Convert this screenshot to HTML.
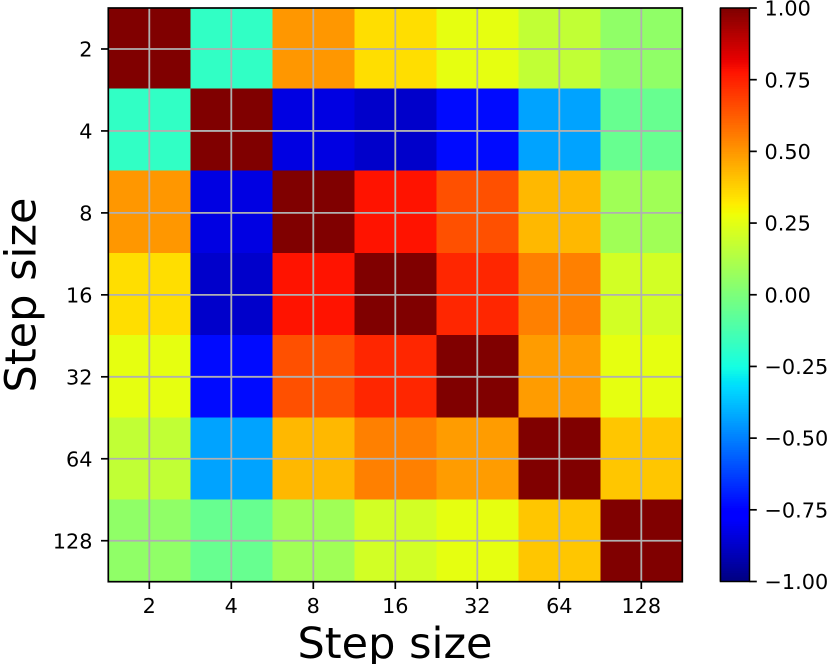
<!DOCTYPE html>
<html>
<head>
<meta charset="utf-8">
<style>
html,body{margin:0;padding:0;background:#fff;width:830px;height:664px;overflow:hidden}
svg{display:block}
text{font-family:"DejaVu Sans","Liberation Sans",sans-serif;fill:#000}
</style>
</head>
<body>
<svg id="chart" width="830" height="664" viewBox="0 0 830 664" xmlns="http://www.w3.org/2000/svg"></svg>
<script>
const categories = ["2", "4", "8", "16", "32", "64", "128"];
const row2 = [1.00, -0.18, 0.50, 0.35, 0.26, 0.17, 0.05];
const row4 = [-0.18, 1.00, -0.83, -0.87, -0.73, -0.43, -0.05];
const row8 = [0.50, -0.83, 1.00, 0.78, 0.65, 0.43, 0.09];
const row16 = [0.35, -0.87, 0.78, 1.00, 0.74, 0.55, 0.21];
const row32 = [0.26, -0.73, 0.65, 0.74, 1.00, 0.49, 0.26];
const row64 = [0.17, -0.43, 0.43, 0.55, 0.49, 1.00, 0.40];
const row128 = [0.05, -0.05, 0.09, 0.21, 0.26, 0.40, 1.00];
const matrix = [row2, row4, row8, row16, row32, row64, row128];
const colorbarTicks = [1.00, 0.75, 0.50, 0.25, 0.00, -0.25, -0.50, -0.75, -1.00];
const colorMin = -1;
const colorMax = 1;

const svg = document.getElementById('chart');
const NS = 'http://www.w3.org/2000/svg';
const plot = {left: 108.3, right: 682.3, top: 8, bottom: 581.7};
const image = {top: 6, bottom: 582};
const bar = {left: 720.5, right: 749.5, top: 8, bottom: 581.5};
const stepX = (plot.right - plot.left) / categories.length;
const stepY = (plot.bottom - plot.top) / categories.length;
const stepImage = (image.bottom - image.top) / categories.length;
const xBand = i => plot.left + i * stepX;
const xCenter = i => xBand(i) + stepX / 2;
const yCenter = i => plot.top + i * stepY + stepY / 2;
const yImage = i => Math.min(plot.bottom, Math.max(plot.top, image.top + i * stepImage));
const barY = v => bar.bottom - (v - colorMin) / (colorMax - colorMin) * (bar.bottom - bar.top);

function make(tag, attrs, parent) {
  const el = document.createElementNS(NS, tag);
  for (const k in attrs) el.setAttribute(k, attrs[k]);
  (parent || svg).appendChild(el);
  return el;
}
function interp(pts, t) {
  if (t <= pts[0][0]) return pts[0][1];
  for (let i = 1; i < pts.length; i++) {
    if (t <= pts[i][0]) {
      const a = pts[i - 1], b = pts[i];
      return a[1] + (b[1] - a[1]) * (t - a[0]) / (b[0] - a[0]);
    }
  }
  return pts[pts.length - 1][1];
}
const jetR = [[0, 0], [0.35, 0], [0.66, 1], [0.89, 1], [1, 0.5]];
const jetG = [[0, 0], [0.125, 0], [0.375, 1], [0.64, 1], [0.91, 0], [1, 0]];
const jetB = [[0, 0.5], [0.11, 1], [0.34, 1], [0.65, 0], [1, 0]];
function jet(v) {
  const t = Math.max(0, Math.min(1, (v - colorMin) / (colorMax - colorMin)));
  const c = p => Math.round(interp(p, t) * 255);
  return 'rgb(' + c(jetR) + ',' + c(jetG) + ',' + c(jetB) + ')';
}

/* heatmap cells */
const cellGroup = make('g', {'shape-rendering': 'crispEdges'});


matrix.forEach((row, r) => {
  row.forEach((value, c) => {
    const cell = make('rect', {
      x: xBand(c), y: yImage(r),
      width: stepX + 0.5, height: yImage(r + 1) - yImage(r) + 0.5,
      fill: jet(value)
    }, cellGroup);
    
    
  });
});

/* grid */
const gridGroup = make('g', {stroke: '#b0b0b0', 'stroke-width': 1.8});


categories.forEach((label, i) => {
  const vLine = make('line', {x1: xCenter(i), x2: xCenter(i), y1: plot.top, y2: plot.bottom}, gridGroup);
  
  
  const hLine = make('line', {x1: plot.left, x2: plot.right, y1: yCenter(i), y2: yCenter(i)}, gridGroup);
  
  
});

/* axes frame */
const frame = make('rect', {
  x: plot.left, y: plot.top,
  width: plot.right - plot.left, height: plot.bottom - plot.top,
  fill: 'none', stroke: '#000', 'stroke-width': 1.7
});



/* ticks and tick labels */
categories.forEach((label, i) => {
  const xt = make('line', {x1: xCenter(i), x2: xCenter(i), y1: plot.bottom, y2: plot.bottom + 7.3, stroke: '#000', 'stroke-width': 1.7});
  
  
  const xl = make('text', {x: xCenter(i), y: 613, 'text-anchor': 'middle', 'font-size': 20.8});
  xl.textContent = label;
  
  
  const yt = make('line', {x1: plot.left - 7.3, x2: plot.left, y1: yCenter(i), y2: yCenter(i), stroke: '#000', 'stroke-width': 1.7});
  
  
  const yl = make('text', {x: 92.5, y: yCenter(i) + 7.6, 'text-anchor': 'end', 'font-size': 20.8});
  yl.textContent = label;
  
  
});

/* axis titles */
const xTitle = make('text', {x: 395, y: 658, 'text-anchor': 'middle', 'font-size': 43});
xTitle.textContent = 'Step size';


const yTitle = make('text', {x: 0, y: 0, 'text-anchor': 'middle', 'font-size': 43, transform: 'translate(35.5 295) rotate(-90)'});
yTitle.textContent = 'Step size';



/* colorbar */
const ramp = make('g', {'shape-rendering': 'crispEdges'});


const levels = 256;
for (let i = 0; i < levels; i++) {
  const lo = colorMin + (colorMax - colorMin) * i / levels;
  const hi = colorMin + (colorMax - colorMin) * (i + 1) / levels;
  make('rect', {
    x: bar.left, y: barY(hi),
    width: bar.right - bar.left, height: barY(lo) - barY(hi) + 0.6,
    fill: jet((lo + hi) / 2)
  }, ramp);
}
const barEdge = make('line', {x1: bar.left - 0.8, x2: bar.left - 0.8, y1: bar.top, y2: bar.bottom, stroke: '#b0b0b0', 'stroke-width': 1});


const barFrame = make('rect', {
  x: bar.left, y: bar.top,
  width: bar.right - bar.left, height: bar.bottom - bar.top,
  fill: 'none', stroke: '#000', 'stroke-width': 1.5
});


colorbarTicks.forEach(v => {
  const y = barY(v);
  const t = make('line', {x1: bar.right, x2: bar.right + 7.3, y1: y, y2: y, stroke: '#000', 'stroke-width': 1.7});
  
  
  const l = make('text', {x: 764.5, y: y + 7.6, 'font-size': 20.8});
  l.textContent = (v < 0 ? '\u2212' : '') + Math.abs(v).toFixed(2);
  
  
});
</script>
</body>
</html>
